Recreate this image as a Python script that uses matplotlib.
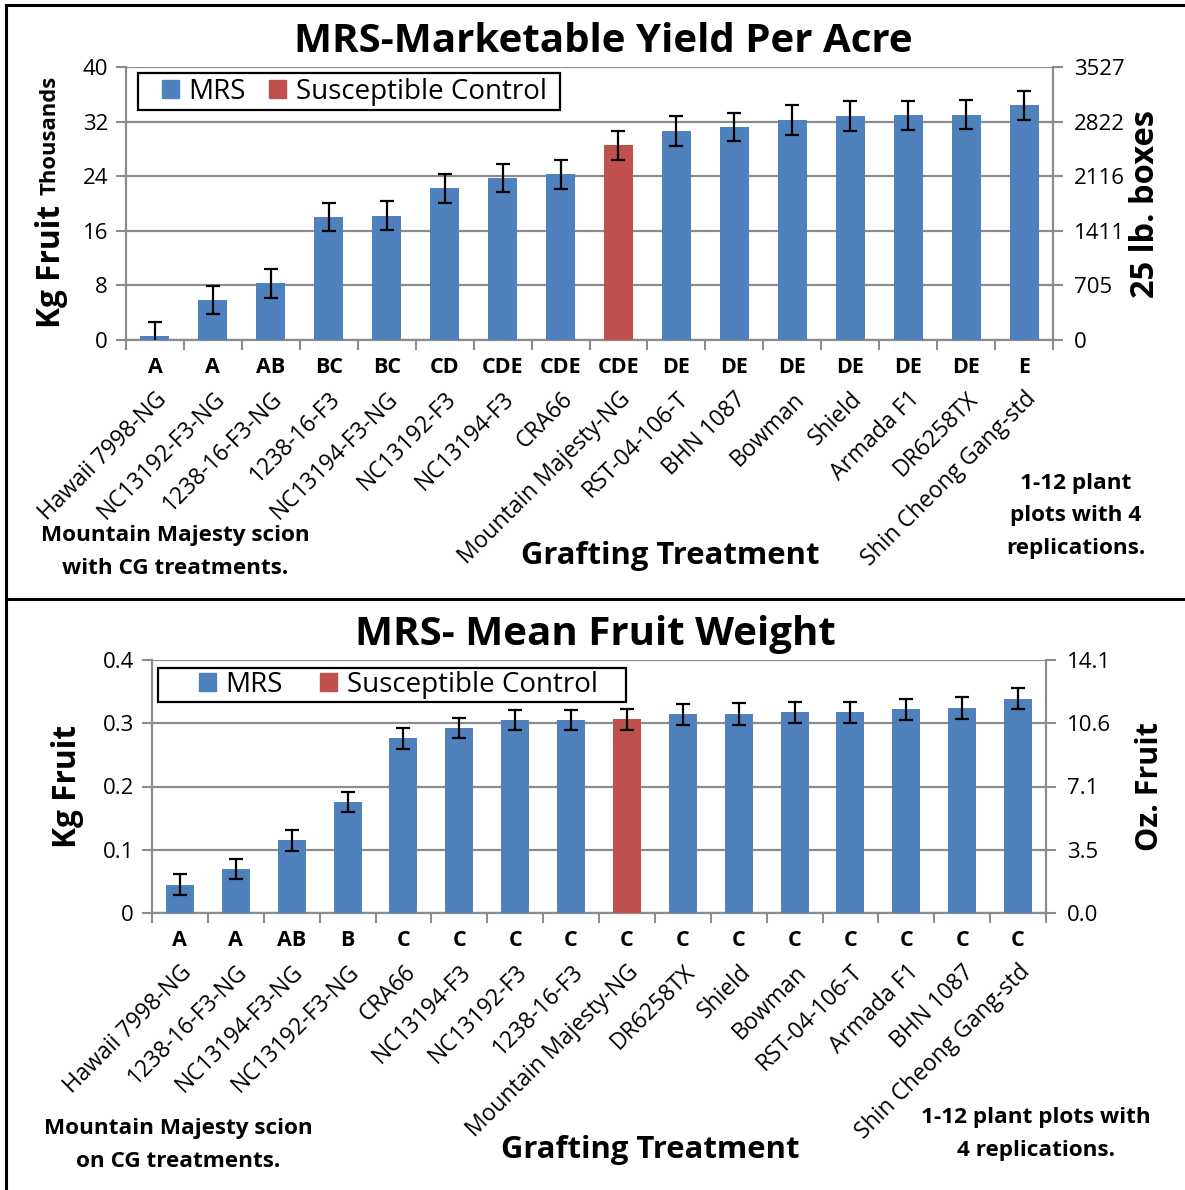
import matplotlib
matplotlib.use("Agg")
import matplotlib.pyplot as plt
from matplotlib.lines import Line2D
from matplotlib.patches import Patch, Rectangle
from matplotlib.ticker import FixedLocator


# GLOBAL
FIG_W, FIG_H = 1185, 1190
BLUE = "#4F81BD"
RED = "#C0504D"
GRID = "#8C8C8C"
CONTROL = "Mountain Majesty-NG"
KG_PER_BOX = 25 * 0.45359237
OZ_PER_KG = 35.274

plt.rcParams["font.family"] = ["Open Sans", "DejaVu Sans"]

# Top panel - marketable yield (thousands kg / acre)
yield_names = ["Hawaii 7998-NG", "NC13192-F3-NG", "1238-16-F3-NG", "1238-16-F3",
               "NC13194-F3-NG", "NC13192-F3", "NC13194-F3", "CRA66",
               "Mountain Majesty-NG", "RST-04-106-T", "BHN 1087", "Bowman",
               "Shield", "Armada F1", "DR6258TX", "Shin Cheong Gang-std"]
yield_letters = ["A", "A", "AB", "BC", "BC", "CD", "CDE", "CDE", "CDE",
                 "DE", "DE", "DE", "DE", "DE", "DE", "E"]
yield_vals = [0.6, 5.85, 8.3, 18.05, 18.2, 22.2, 23.75, 24.25, 28.5,
              30.6, 31.2, 32.25, 32.8, 32.9, 33.0, 34.4]
yield_err = [2.1, 2.1, 2.1, 2.05, 2.1, 2.15, 2.05, 2.15, 2.1,
             2.15, 2.1, 2.15, 2.15, 2.15, 2.1, 2.15]
yield_ticks = [0, 8, 16, 24, 32, 40]

# Bottom panel - mean fruit weight (kg)
weight_names = ["Hawaii 7998-NG", "1238-16-F3-NG", "NC13194-F3-NG", "NC13192-F3-NG",
                "CRA66", "NC13194-F3", "NC13192-F3", "1238-16-F3",
                "Mountain Majesty-NG", "DR6258TX", "Shield", "Bowman",
                "RST-04-106-T", "Armada F1", "BHN 1087", "Shin Cheong Gang-std"]
weight_letters = ["A", "A", "AB", "B", "C", "C", "C", "C", "C",
                  "C", "C", "C", "C", "C", "C", "C"]
weight_vals = [0.045, 0.069, 0.115, 0.175, 0.276, 0.292, 0.305, 0.305, 0.306,
               0.314, 0.315, 0.317, 0.317, 0.322, 0.324, 0.339]
weight_err = [0.016, 0.016, 0.017, 0.016, 0.017, 0.016, 0.016, 0.016, 0.016,
              0.017, 0.017, 0.017, 0.017, 0.017, 0.017, 0.017]
weight_ticks = [0, 0.1, 0.2, 0.3, 0.4]


def px_rect(left, top, right, bottom):
    """Utility - pixel box to figure fraction rect"""
    return [left / FIG_W, 1 - bottom / FIG_H,
            (right - left) / FIG_W, (bottom - top) / FIG_H]


def fx(x):
    return x / FIG_W


def fy(y):
    return 1 - y / FIG_H


def draw_panel(fig, rect, names, letters, vals, errs, yticks, left_labels,
               right_labels, legend_frame, legend_xy, col_space):
    """Bar panel with error bars, letter groups and twin axis"""
    ax = fig.add_axes(rect)
    x = list(range(len(names)))
    colors = [RED if n == CONTROL else BLUE for n in names]

    ax.bar(x, vals, width=0.5, color=colors, zorder=3)
    ax.errorbar(x, vals, yerr=errs, fmt="none", ecolor="black",
                elinewidth=1.6, capsize=5, capthick=1.6, zorder=4)

    ax.set_xlim(-0.5, len(names) - 0.5)
    ax.set_ylim(yticks[0], yticks[-1])
    ax.set_yticks(yticks)
    ax.set_yticklabels(left_labels, fontsize=16)
    ax.yaxis.grid(True, color=GRID, lw=1.6, zorder=0)

    # Category ticks between bars, labels at bar centres
    ax.set_xticks(x)
    ax.set_xticklabels(names, rotation=45, ha="right", va="top",
                       rotation_mode="anchor", fontsize=16.5)
    ax.tick_params(axis="x", which="major", length=0, pad=34)
    ax.xaxis.set_minor_locator(FixedLocator([i - 0.5 for i in range(len(names) + 1)]))
    ax.tick_params(axis="x", which="minor", length=7, width=1.5, color=GRID)
    ax.tick_params(axis="y", length=7, width=1.5, color=GRID, pad=6)

    for side in ["left", "right", "bottom"]:
        ax.spines[side].set_color(GRID)
        ax.spines[side].set_linewidth(1.6)
    ax.spines["top"].set_visible(False)

    # Significance letters under each bar
    for xi, let in zip(x, letters):
        ax.annotate(let, xy=(xi, 0), xycoords=("data", "axes fraction"),
                    xytext=(0, -20), textcoords="offset points",
                    ha="center", va="center", fontsize=15.5, fontweight="bold")

    # Twin axis in converted units
    ax2 = ax.twinx()
    ax2.set_ylim(ax.get_ylim())
    ax2.set_yticks(yticks)
    ax2.set_yticklabels(right_labels, fontsize=16)
    ax2.tick_params(axis="y", length=7, width=1.5, color=GRID, pad=8)
    for side in ["left", "right", "bottom", "top"]:
        ax2.spines[side].set_visible(False)

    # Legend: entries without frame, box drawn separately
    handles = [Patch(color=BLUE, label="MRS"),
               Patch(color=RED, label="Susceptible Control")]
    fig.legend(handles=handles, loc="center left", ncol=2,
               bbox_to_anchor=legend_xy, fontsize=20, frameon=False,
               handlelength=0.6, handleheight=0.6, handletextpad=0.35,
               columnspacing=col_space, borderpad=0, borderaxespad=0)
    fig.add_artist(Rectangle((legend_frame[0], legend_frame[1]),
                             legend_frame[2], legend_frame[3],
                             transform=fig.transFigure, fill=True,
                             facecolor="none", edgecolor="black", lw=1.6,
                             zorder=5))
    return ax


fig = plt.figure(figsize=(FIG_W / 100, FIG_H / 100), dpi=100)

# Frame lines
for xs, ys in [([6, 6], [5, FIG_H]), ([6, FIG_W], [5, 5]), ([6, FIG_W], [599, 599])]:
    fig.add_artist(Line2D([fx(v) for v in xs], [fy(v) for v in ys],
                          transform=fig.transFigure, color="black", lw=2.2))

# Top panel
box_labels = [str(round(t * 1000 / KG_PER_BOX)) for t in yield_ticks]
draw_panel(fig, px_rect(126, 67, 1053, 340), yield_names, yield_letters,
           yield_vals, yield_err, yield_ticks, [str(t) for t in yield_ticks],
           box_labels, px_rect(138, 73, 560, 110), (fx(162), fy(92)), 0.85)
fig.text(fx(603), fy(41), "MRS-Marketable Yield Per Acre", ha="center",
         va="center", fontsize=29, fontweight="bold")
fig.text(fx(52), fy(266), "Kg Fruit", rotation=90, ha="center", va="center",
         fontsize=22.8, fontweight="bold")
fig.text(fx(50), fy(135), "Thousands", rotation=90, ha="center", va="center",
         fontsize=15.8, fontweight="bold")
fig.text(fx(1145), fy(204), "25 lb. boxes", rotation=90, ha="center",
         va="center", fontsize=23.5, fontweight="bold")
fig.text(fx(670), fy(556), "Grafting Treatment", ha="center", va="center",
         fontsize=22.3, fontweight="bold")
fig.text(fx(175), fy(552), "Mountain Majesty scion\nwith CG treatments.",
         ha="center", va="center", fontsize=16.2, fontweight="bold",
         linespacing=1.7)
fig.text(fx(1076), fy(516), "1-12 plant\nplots with 4\nreplications.",
         ha="center", va="center", fontsize=16.2, fontweight="bold",
         linespacing=1.7)

# Bottom panel
oz_labels = [f"{t * OZ_PER_KG:.1f}" for t in weight_ticks]
draw_panel(fig, px_rect(152, 660, 1046, 913), weight_names, weight_letters,
           weight_vals, weight_err, weight_ticks,
           ["0", "0.1", "0.2", "0.3", "0.4"], oz_labels,
           px_rect(158, 668, 626, 702), (fx(199), fy(685)), 1.35)
fig.text(fx(595), fy(634), "MRS- Mean Fruit Weight", ha="center",
         va="center", fontsize=29, fontweight="bold")
fig.text(fx(68), fy(786), "Kg Fruit", rotation=90, ha="center", va="center",
         fontsize=22.8, fontweight="bold")
fig.text(fx(1150), fy(787), "Oz. Fruit", rotation=90, ha="center",
         va="center", fontsize=22, fontweight="bold")
fig.text(fx(650), fy(1150), "Grafting Treatment", ha="center", va="center",
         fontsize=22.3, fontweight="bold")
fig.text(fx(178), fy(1145), "Mountain Majesty scion\non CG treatments.",
         ha="center", va="center", fontsize=16.2, fontweight="bold",
         linespacing=1.7)
fig.text(fx(1036), fy(1134), "1-12 plant plots with\n4 replications.",
         ha="center", va="center", fontsize=16.2, fontweight="bold",
         linespacing=1.7)

fig.savefig("out.png", dpi=100)
plt.close(fig)
